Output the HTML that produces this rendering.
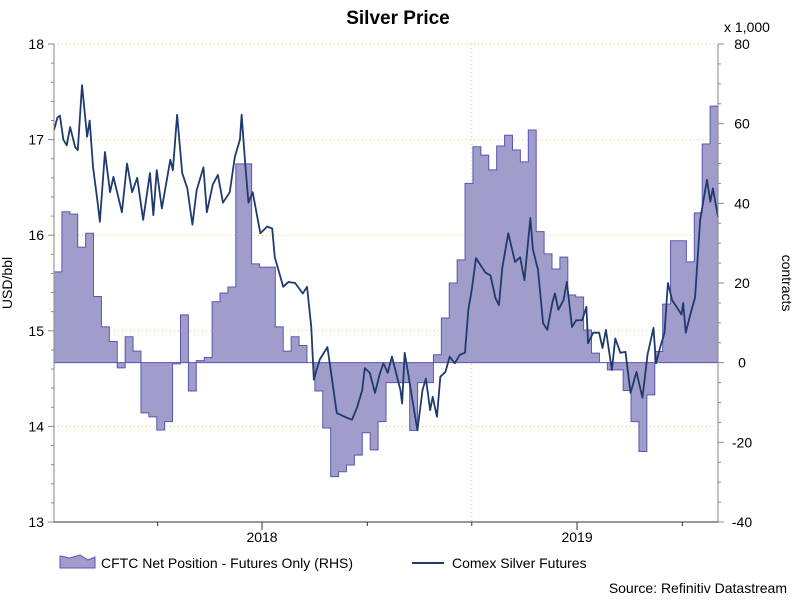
<!DOCTYPE html>
<html><head><meta charset="utf-8"><style>
body{margin:0;background:#fff;font-family:"Liberation Sans",sans-serif}
svg{display:block}
text{font-family:"Liberation Sans",sans-serif}
</style></head><body>
<svg id="chart" width="796" height="601">
<text x="398" y="24" text-anchor="middle" font-size="19" font-weight="bold">Silver Price</text>
<g id="grid"></g><g id="area"></g><g id="line"></g><g id="axes"></g>
<text x="12" y="283" transform="rotate(-90 12 283)" text-anchor="middle" font-size="14">USD/bbl</text>
<text x="782" y="283" transform="rotate(90 782 283)" text-anchor="middle" font-size="14">contracts</text>
<text x="724" y="32" font-size="14">x 1,000</text>
<g>
<path d="M60,568 L60,556 L70,558 L80,555 L88,560 L95,557 L95,568 Z" fill="#a19dcb" stroke="#5a56b0"/>
<text x="101" y="568" font-size="14">CFTC Net Position - Futures Only (RHS)</text>
<line x1="412" y1="563" x2="444" y2="563" stroke="#1f3a6e" stroke-width="2"/>
<text x="452" y="568" font-size="14">Comex Silver Futures</text>
</g>
<text x="787" y="593" text-anchor="end" font-size="14">Source: Refinitiv Datastream</text>
</svg>
<script>
// CFTC net position (thousands of contracts), consecutive reports
const cftcValues=[22.8,37.9,37.3,29,32.5,16.6,9,5.3,-1.3,6.5,2.9,-12.6,-13.6,-16.9,-14.8,-0.3,12,-7.1,0.5,1.3,15.3,17.5,19,49.9,49.9,24.8,24,24,9,2.9,6.5,4.3,0,-7.1,-16.4,-28.6,-27.4,-25.7,-23.2,-17.6,-21.9,-14.8,-5,-5,-5,-17,-5,-5,2,11.2,20,25.8,45,54.2,52.1,48.4,54.4,57.1,53.4,50.4,58.4,32.9,27.3,23.5,26.5,17,16.5,8.2,2.4,0,-1.8,-1.8,-7,-14.8,-22.3,-8.1,2.8,14.7,30.6,30.6,25.3,37.6,54.9,64.4];
// Comex silver price: day offset from 2017-05-01 and price
const priceDays=[0,4,7,11,15,19,25,28,33,39,42,46,51,54,60,66,70,80,86,92,98,105,113,117,121,127,137,140,145,151,157,163,168,176,180,187,193,199,207,213,219,221,225,229,234,243,251,257,260,270,276,284,293,298,303,306,313,322,327,333,345,351,357,363,366,372,378,384,388,393,398,402,408,410,413,417,422,428,434,438,443,446,451,455,461,466,472,478,484,488,492,497,508,514,520,524,528,535,543,549,554,561,564,570,576,581,587,590,594,600,604,610,615,622,627,629,635,642,646,650,657,661,667,673,679,686,693,699,706,709,714,719,723,728,734,739,741,744,750,755,761,769,773,776,782];
const priceValues=[17.1,17.23,17.25,17.0,16.94,17.13,16.92,16.89,17.57,17.03,17.2,16.71,16.37,16.14,16.87,16.45,16.61,16.24,16.75,16.45,16.6,16.16,16.65,16.21,16.68,16.28,16.79,16.68,17.26,16.65,16.49,16.11,16.47,16.71,16.24,16.53,16.63,16.34,16.45,16.82,17.0,17.26,16.77,16.34,16.45,16.02,16.09,16.07,15.77,15.46,15.51,15.5,15.39,15.46,15.04,14.49,14.7,14.83,14.52,14.14,14.09,14.07,14.2,14.38,14.61,14.56,14.35,14.56,14.66,14.56,14.73,14.59,14.38,14.24,14.77,14.56,14.28,13.96,14.38,14.5,14.17,14.31,14.1,14.52,14.57,14.73,14.66,14.75,14.77,15.22,15.43,15.76,15.61,15.58,15.34,15.27,15.66,16.02,15.72,15.77,15.53,16.18,15.85,15.64,15.08,15.01,15.3,15.39,15.22,15.32,15.51,15.04,15.11,15.11,15.25,14.87,14.98,14.98,14.82,15.01,14.59,14.92,14.77,14.78,14.35,14.57,14.3,14.75,15.03,14.66,14.83,14.98,15.5,15.32,15.24,15.17,15.29,14.98,15.19,15.35,16.16,16.58,16.35,16.49,16.19];
const leftTicks=[13,14,15,16,17,18];
const rightTicks=[-40,-20,0,20,40,60,80];
const yearLabels=["2018","2019"];
const yearDays=[245,616];

const L=54,R=718,T=44,B=522,TOTAL=782;
const xDay=d=>L+d*(R-L)/TOTAL;
const yL=v=>B-(v-13)*(B-T)/5;
const yR=v=>B-(v+40)*(B-T)/120;
const NS="http://www.w3.org/2000/svg";
function mk(tag,parent,attrs){const e=document.createElementNS(NS,tag);for(const k in attrs)e.setAttribute(k,attrs[k]);document.getElementById(parent).appendChild(e);return e;}

// grid
leftTicks.forEach(v=>{if(v===13)return;
 const g=mk('line','grid',{x1:L,x2:R,y1:yL(v),y2:yL(v),stroke:'#c9c98a','stroke-dasharray':'1,3'});
 
 });
const vg=mk('line','grid',{x1:xDay(492),x2:xDay(492),y1:T,y2:B,stroke:'#c9c98a','stroke-dasharray':'1,3'});



// CFTC step area
const w=(R-L)/cftcValues.length;
let d='M'+L+','+yR(0);
cftcValues.forEach((v,i)=>{d+=' L'+(L+i*w)+','+yR(v)+' L'+(L+(i+1)*w)+','+yR(v);});
d+=' L'+R+','+yR(0)+' Z';
const ar=mk('path','area',{d:d,fill:'#a19dcb',stroke:'#5a56b0','stroke-width':'1'});



// price line
const pts=priceDays.map((dd,i)=>xDay(dd)+','+yL(priceValues[i])).join(' ');
const pl=mk('polyline','line',{points:pts,fill:'none',stroke:'#1f3a6e','stroke-width':'1.8','stroke-linejoin':'round'});



// axes
[[L,T,L,B],[R,T,R,B],[L,B,R,B]].forEach((a,i)=>{
 const e=mk('line','axes',{x1:a[0],y1:a[1],x2:a[2],y2:a[3],stroke:i==2?'#333':'#888'});
 
 });
for(let v=13;v<=18.001;v+=0.2){mk('line','axes',{x1:L-(Math.abs(v-Math.round(v))<0.01?6:3),x2:L,y1:yL(v),y2:yL(v),stroke:'#888'});}
for(let v=-40;v<=80;v+=5){mk('line','axes',{x1:R,x2:R+(v%20===0?6:3),y1:yR(v),y2:yR(v),stroke:'#888'});}
leftTicks.forEach(v=>{const t=mk('text','axes',{x:L-10,y:yL(v)+5,'text-anchor':'end','font-size':'14'});t.textContent=v;
 
 });
rightTicks.forEach(v=>{const t=mk('text','axes',{x:R+24,y:yR(v)+5,'text-anchor':'middle','font-size':'14'});t.textContent=v;
 
 });
yearLabels.forEach((s,i)=>{const x=xDay(yearDays[i]);
 mk('line','axes',{x1:x,x2:x,y1:B,y2:B+8,stroke:'#333'});
 const t=mk('text','axes',{x:x,y:B+20,'text-anchor':'middle','font-size':'14'});t.textContent=s;
 
 });
[122,369,492,740].forEach(dd=>mk('line','axes',{x1:xDay(dd),x2:xDay(dd),y1:B,y2:B+4,stroke:'#333'}));
</script>
</body></html>
